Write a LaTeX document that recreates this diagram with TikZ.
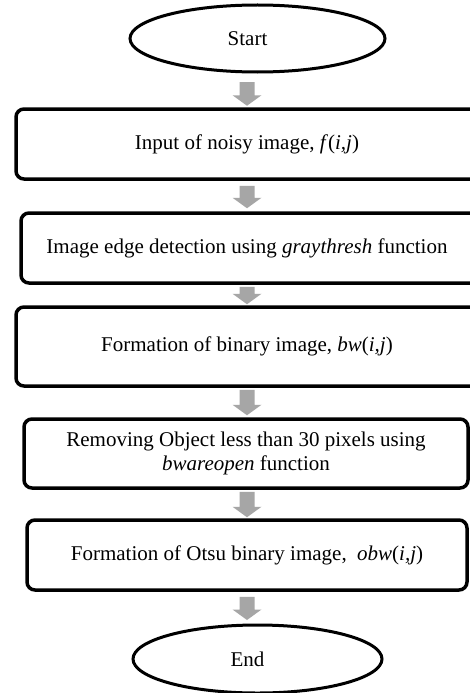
\documentclass[tikz,border=0pt]{standalone}
\usepackage{fontspec}
\setmainfont{Liberation Serif}
\usetikzlibrary{shapes.geometric,calc}
\definecolor{arrowgray}{HTML}{A6A6A6}
% #1 upper node, #2 lower node, #3 node giving the x position, #4 gap below upper, #5 gap above lower
\newcommand{\garrow}[5]{%
  \fill[arrowgray] let \p1=(#1.south), \p2=(#2.north), \p3=(#3.center) in
    (\x3-7.5pt,\y1-#4pt) -- (\x3+7.5pt,\y1-#4pt) -- (\x3+7.5pt,\y2+#5pt+10.5pt) --
    (\x3+14.5pt,\y2+#5pt+10.5pt) -- (\x3,\y2+#5pt) -- (\x3-14.5pt,\y2+#5pt+10.5pt) --
    (\x3-7.5pt,\y2+#5pt+10.5pt) -- cycle;}
\begin{document}
\begin{tikzpicture}[x=1pt,y=-1pt,
  every node/.style={font=\fontsize{21}{24}\selectfont, inner sep=0pt, align=center},
  terminal/.style={ellipse, draw=black, line width=3pt},
  procbox/.style={rectangle, rounded corners=8pt, draw=black, line width=3.5pt}]
\useasboundingbox (0,0) rectangle (470,693);
\clip (0,0) rectangle (470,693);
\fill[white] (0,0) rectangle (470,693);
\node[terminal, minimum width=255pt, minimum height=67pt] (start) at (257.5,38.5) {\hspace*{-20pt}Start};
\node[procbox, minimum width=490pt, minimum height=70pt] (b1) at (261,144) {\hspace*{-28pt}Input of noisy image, \textit{f}(\textit{i,j})};
\node[procbox, minimum width=480pt, minimum height=70pt] (b2) at (261,248) {\hspace*{-28pt}Image edge detection using \textit{graythresh} function};
\node[procbox, minimum width=490pt, minimum height=79pt] (b3) at (261,346.5) {\hspace*{-28pt}Formation of binary image, \textit{bw}(\textit{i,j})};
\node[procbox, minimum width=444pt, minimum height=69pt] (b4) at (246,453.5) {Removing Object less than 30 pixels using\\\textit{bwareopen} function};
\node[procbox, minimum width=440pt, minimum height=70pt] (b5) at (247,555) {Formation of Otsu binary image,\ \ \textit{obw}(\textit{i,j})};
\node[terminal, minimum width=249pt, minimum height=68pt] (end) at (257.5,659) {\hspace*{-20pt}End};
\garrow{start}{b1}{b5}{8.5}{1.5}
\garrow{b1}{b2}{b5}{5}{3}
\garrow{b2}{b3}{b5}{2}{1}
\garrow{b3}{b4}{b5}{2}{2}
\garrow{b4}{b5}{b5}{2}{1}
\garrow{b5}{end}{b5}{5}{3.5}
\end{tikzpicture}
\end{document}
